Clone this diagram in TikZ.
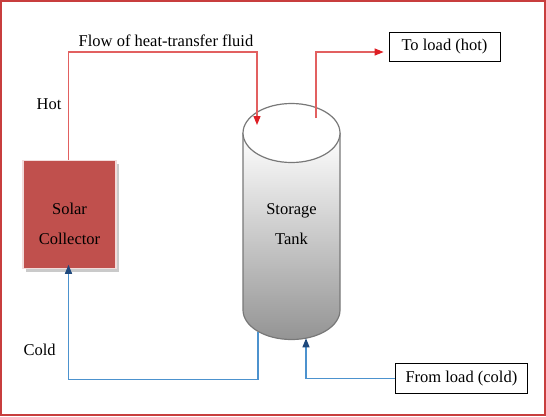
\documentclass[tikz,border=0pt]{standalone}
\usepackage{fontspec}
\setmainfont{Liberation Serif}
\usetikzlibrary{arrows.meta,shadows}

\definecolor{framered}{RGB}{200,62,62}
\definecolor{collred}{RGB}{192,80,77}
\definecolor{hotred}{RGB}{226,96,96}
\definecolor{tipred}{RGB}{222,30,36}
\definecolor{coldblue}{RGB}{76,146,206}
\definecolor{tipblue}{RGB}{31,73,125}
\definecolor{tankgray}{RGB}{120,120,120}

\begin{document}
\begin{tikzpicture}[x=1pt,y=-1pt,
	every node/.style={font=\fontsize{16.5}{30}\selectfont,align=center},
	collbox/.style={fill=collred,draw=collred!20!white,line width=1.5pt,minimum width=93pt,minimum height=108pt,
		drop shadow={shadow xshift=3pt,shadow yshift=-3.5pt,fill=black!35,opacity=.6}},
	loadbox/.style={draw,line width=.8pt,inner sep=0pt},
	flowhot/.style={hotred,line width=1.2pt,-{Triangle[length=9pt,width=7pt,color=tipred]}},
	flowcold/.style={coldblue,line width=1.2pt,-{Triangle[length=9pt,width=7pt,color=tipblue]}}]
		\useasboundingbox (0,0) rectangle (546,416);

		%frame
		\draw[framered,line width=2pt] (1,1) rectangle (545,415);

		%solar collector
		\node[collbox] (coll) at (69.5,214.5) {};
		\node (colltext) at (69.5,224) {Solar\\Collector};

		%storage tank
		\shade[top color=white,bottom color=black!42] (243,133) -- (243,310)
			arc[start angle=180,end angle=0,x radius=48.5,y radius=29.5] -- (340,133) -- cycle;
		\draw[tankgray,line width=1.2pt] (243,133) -- (243,310)
			arc[start angle=180,end angle=0,x radius=48.5,y radius=29.5] -- (340,133);
		\draw[tankgray,line width=1.2pt,fill=white] (291.5,133) ellipse[x radius=48.5,y radius=29.5];
		\node (tanktext) at (291.5,224) {Storage\\Tank};

		%load boxes
		\node[loadbox,minimum width=111pt,minimum height=29pt] (toload) at (444.5,46.7) {To load (hot)};
		\node[loadbox,minimum width=132pt,minimum height=30pt] (fromload) at (461.4,378.3) {From load (cold)};

		%labels
		\node (flow) at (166,40.7) {Flow of heat-transfer fluid};
		\node (hot) at (49,104) {Hot};
		\node (cold) at (39.7,350) {Cold};

		%hot side
		\coordinate (hotturn) at (68.5,52);
		\coordinate (tankin) at (257,125);
		\draw[flowhot] (hotturn |- coll.north) -- (hotturn) -| (tankin);

		\coordinate (tankout) at (316,118);
		\coordinate (outturn) at (316,52);
		\draw[flowhot,shorten >=5pt] (tankout) -- (outturn) -- (outturn -| toload.west);

		%cold side
		\coordinate (tankret) at (258,331.5);
		\coordinate (retturn) at (258,379.3);
		\draw[flowcold,shorten >=-4.5pt] (tankret) -- (retturn) -| (hotturn |- coll.south);

		\coordinate (tankbot) at (306,338.3);
		\draw[flowcold] (fromload.west) -| (tankbot);
	\end{tikzpicture}
\end{document}
